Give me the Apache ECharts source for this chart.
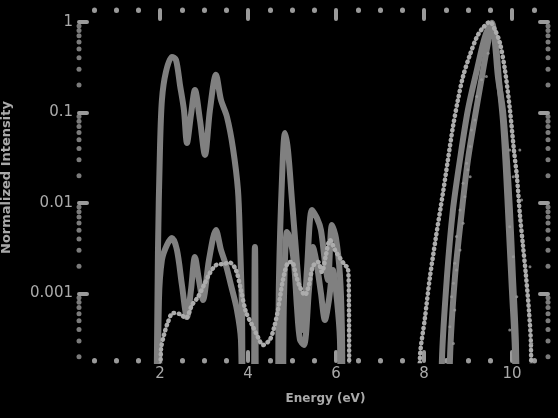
<!DOCTYPE html>
<html><head><meta charset="utf-8">
<script src="https://cdn.jsdelivr.net/npm/echarts@6/dist/echarts.min.js"></script>
<style>html,body{margin:0;padding:0;background:#000}#c{width:558px;height:418px}</style>
</head><body><div id="c"></div>
<script>
// axis ranges and ticks
const xRange = [0.16, 10.82];
const yRange = [0.00018, 1.35];
const xTickValues = [2, 4, 6, 8, 10];
const yTickValues = [0.001, 0.01, 0.1, 1];
const yMinorTickValues = [0.0002,0.0003,0.0004,0.0005,0.0006,0.0007,0.0008,0.0009,
  0.002,0.003,0.004,0.005,0.006,0.007,0.008,0.009,
  0.02,0.03,0.04,0.05,0.06,0.07,0.08,0.09,
  0.2,0.3,0.4,0.5,0.6,0.7,0.8,0.9];
const xAxisName = 'Energy (eV)';
const yAxisName = 'Normalized Intensity';

// series A (thick, upper)
const seriesAX = [1.91,1.955,2.0,2.045,2.136,2.273,2.364,2.455,2.545,2.614,2.705,2.795,2.909,3.023,3.136,3.273,3.386,3.523,3.659,3.773,3.818,3.864,3.909,
  4.09,4.159,4.227,
  4.636,4.705,4.773,4.841,4.909,5.0,5.091,5.182,5.25,5.341,5.455,5.568,5.659,5.75,5.818,5.909,6.0,6.091,6.136,6.182,
  8.386,8.409,8.523,8.659,8.818,9.0,9.205,9.386,9.545,9.614,9.682,9.795,9.886,9.955,10.023,10.091,10.136];
const seriesAY = [1e-5,0.00303,0.0385,0.1375,0.280,0.410,0.380,0.201,0.1066,0.046,0.0938,0.177,0.0826,0.0339,0.1066,0.260,0.1375,0.0892,0.0405,0.0139,0.0039,0.00066,1e-5,
  1e-5,0.00327,1e-5,
  1e-5,0.00141,0.0180,0.0593,0.0385,0.0108,0.00303,0.00085,0.000395,0.00182,0.00837,0.00683,0.00503,0.00223,0.00141,0.00571,0.0041,0.0016,0.0004,1e-5,
  1e-5,0.000184,0.00152,0.00837,0.0299,0.1066,0.295,0.683,0.975,0.586,0.247,0.1066,0.0299,0.00837,0.00152,0.000284,1e-5];

// series B (thick, lower)
const seriesBX = [1.932,1.977,2.045,2.159,2.273,2.386,2.5,2.614,2.705,2.795,2.886,2.977,3.114,3.273,3.386,3.5,3.614,3.75,3.841,3.909,
  4.75,4.818,4.886,4.955,5.045,5.114,5.182,5.273,5.386,5.477,5.568,5.659,5.75,5.841,5.932,6.023,6.091,6.136,
  8.568,8.591,8.705,8.864,9.0,9.159,9.318,9.455,9.545,9.636,9.705,9.795,9.864,9.932,10.0,10.068,10.114];
const seriesBY = [1e-5,0.000848,0.00235,0.00343,0.0041,0.00303,0.00124,0.00055,0.00109,0.00253,0.00141,0.000848,0.00235,0.00503,0.00303,0.00206,0.00124,0.00066,0.00031,1e-5,
  1e-5,0.000848,0.00478,0.0041,0.00223,0.00071,0.00031,0.00027,0.00109,0.00327,0.00206,0.00101,0.00051,0.00085,0.00182,0.00085,0.00031,1e-5,
  1e-5,0.000184,0.00152,0.00837,0.0299,0.0892,0.247,0.586,0.88,0.557,0.229,0.0826,0.0232,0.00503,0.00109,0.000238,1e-5];

// series C (beaded)
const seriesCX = [1.977,2.023,2.091,2.182,2.295,2.455,2.591,2.727,2.864,3.0,3.136,3.273,3.432,3.591,3.727,3.841,3.955,4.114,4.227,4.341,4.5,4.591,4.682,4.795,4.909,5.0,5.091,5.182,5.295,5.386,5.477,5.591,5.682,5.773,5.864,5.977,6.091,6.205,6.273,6.295,6.318,
  7.886,7.909,8.023,8.136,8.273,8.432,8.545,8.659,8.773,8.886,9.045,9.205,9.341,9.5,9.614,9.727,9.841,9.955,10.045,10.114,10.182,10.25,10.318,10.386,10.432,10.455];
const seriesCY = [1e-5,0.000238,0.000348,0.000484,0.00061,0.000593,0.000536,0.000746,0.000915,0.00124,0.00169,0.00206,0.00212,0.00219,0.00182,0.00109,0.000625,0.00043,0.00033,0.00027,0.00031,0.000416,0.000657,0.00141,0.00219,0.00223,0.0016,0.00118,0.00096,0.00124,0.0020,0.00223,0.00173,0.00266,0.0039,0.00303,0.00247,0.00206,0.00191,0.00085,1e-5,
  1e-5,0.000194,0.000536,0.00152,0.00421,0.0129,0.0299,0.0691,0.1375,0.247,0.432,0.683,0.858,1.0,0.816,0.586,0.295,0.1066,0.0385,0.0194,0.00736,0.00343,0.0016,0.000657,0.00027,1e-5];

// scattered noise points
const noiseX = [9.46,9.42,9.31,9.2,9.16,9.08,9.05,8.97,9.0,8.89,9.05,8.93,8.82,8.89,8.74,8.82,8.70,8.74,8.67,8.63,8.70,8.59,8.67,9.95,10.03,10.18,9.95,10.03,10.11,9.95,10.41,10.45,10.22];
const noiseY = [0.451,0.249,0.229,0.150,0.0826,0.064,0.0419,0.0275,0.0232,0.0165,0.0195,0.0117,0.00837,0.00597,0.00425,0.00303,0.00216,0.00182,0.0013,0.00092,0.000657,0.00043,0.00028,0.0385,0.0195,0.0385,0.00547,0.00255,0.00092,0.000395,0.00198,0.00028,0.0108];

const zip = (xs, ys) => xs.map((x, i) => [x, ys[i]]);
const tickColor = '#9a9a9a';
const lineColor = '#808080';

function xAx(pos, labels) {
  return {
    type: 'value', position: pos, min: xRange[0], max: xRange[1],
    axisLine: {show: false}, splitLine: {show: false},
    axisTick: {show: true, inside: true, length: 9, customValues: xTickValues,
      lineStyle: {color: tickColor, width: 4, cap: 'round'}},
    minorTick: {show: true, splitNumber: 4, length: 0.5,
      lineStyle: {color: tickColor, width: 5, cap: 'round'}},
    axisLabel: {show: labels, customValues: xTickValues, color: '#aaa', fontSize: 15,
      fontFamily: 'DejaVu Sans', margin: 6},
    name: labels ? xAxisName : '', nameLocation: 'middle', nameGap: 32,
    nameTextStyle: {color: '#aaa', fontSize: 12, fontFamily: 'DejaVu Sans', fontWeight: 'bold',
      padding: [0, 0, 0, 24]}
  };
}
function yAx(pos, labels) {
  return {
    type: 'log', logBase: 10, position: pos, min: yRange[0], max: yRange[1],
    axisLine: {show: false}, splitLine: {show: false},
    axisTick: {show: true, inside: true, length: 8, customValues: yTickValues,
      lineStyle: {color: tickColor, width: 4, cap: 'round'}},
    minorTick: {show: false},
    axisLabel: {show: labels, customValues: yTickValues, color: '#aaa', fontSize: 15,
      fontFamily: 'DejaVu Sans', margin: 6},
    name: labels ? yAxisName : '', nameLocation: 'middle', nameGap: 66,
    nameTextStyle: {color: '#aaa', fontSize: 13, fontFamily: 'DejaVu Sans', fontWeight: 'bold',
      padding: [0, 0, 0, 16]}
  };
}

const chart = echarts.init(document.getElementById('c'), null, {renderer: 'canvas'});
chart.setOption({
  backgroundColor: '#000',
  animation: false,
  grid: {left: 79, right: 10, top: 10, bottom: 57, containLabel: false, outerBoundsMode: 'none'},
  xAxis: [xAx('bottom', true), xAx('top', false)],
  yAxis: [yAx('left', true), yAx('right', false)],
  series: [
    {type: 'line', data: zip(seriesAX, seriesAY), showSymbol: false, smooth: 0.3,
      lineStyle: {color: lineColor, width: 6}, z: 3},
    {type: 'line', data: zip(seriesBX, seriesBY), showSymbol: false, smooth: 0.3,
      lineStyle: {color: lineColor, width: 6}, z: 3},
    {type: 'line', data: zip(seriesCX, seriesCY), showSymbol: false, smooth: 0.3,
      lineStyle: {color: '#acacac', width: 4.5, type: [0.5, 4.5], cap: 'round'}, z: 4},
    {type: 'scatter', data: zip(noiseX, noiseY), symbolSize: 3,
      itemStyle: {color: '#999'}, z: 5},
    {type: 'scatter', data: yMinorTickValues.map(v => [xRange[0], v]), symbolSize: 5, clip: false,
      silent: true, itemStyle: {color: tickColor}, z: 6},
    {type: 'scatter', data: yMinorTickValues.map(v => [xRange[1], v]), symbolSize: 5, clip: false,
      silent: true, itemStyle: {color: tickColor}, z: 6}
  ]
});
</script></body></html>
